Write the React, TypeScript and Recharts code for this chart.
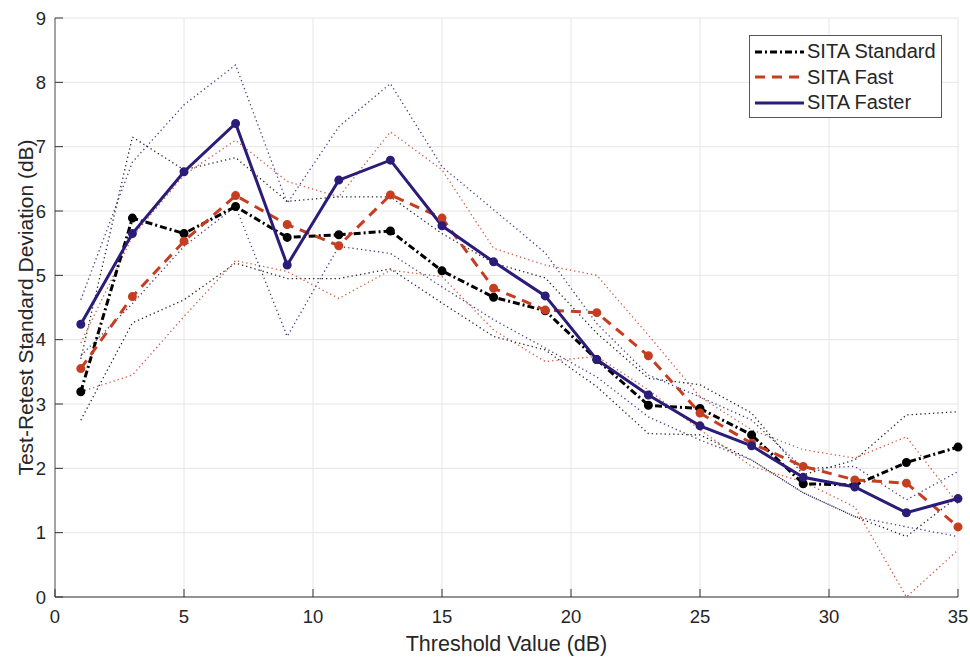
import React from "react";
import { LineChart, Line, XAxis, YAxis, CartesianGrid } from "recharts";

// threshold values (dB)
const thresholds = [1, 3, 5, 7, 9, 11, 13, 15, 17, 19, 21, 23, 25, 27, 29, 31, 33, 35];

// mean test-retest SD per strategy
const standard = [3.19, 5.89, 5.65, 6.07, 5.59, 5.63, 5.69, 5.07, 4.66, 4.45, 3.69, 2.98, 2.93, 2.52, 1.76, 1.74, 2.09, 2.33];
const fast = [3.55, 4.67, 5.53, 6.24, 5.79, 5.46, 6.25, 5.89, 4.8, 4.46, 4.42, 3.75, 2.86, 2.39, 2.03, 1.82, 1.77, 1.09];
const faster = [4.24, 5.65, 6.61, 7.36, 5.16, 6.48, 6.79, 5.77, 5.21, 4.68, 3.69, 3.14, 2.66, 2.35, 1.86, 1.71, 1.31, 1.53];

// confidence bounds (dotted)
const standardHi = [3.7, 7.15, 6.64, 6.83, 6.15, 6.22, 6.22, 5.65, 5.19, 4.96, 4.1, 3.4, 3.3, 2.86, 1.9, 2.13, 2.83, 2.88];
const standardLo = [2.75, 4.26, 4.62, 5.19, 4.95, 4.95, 5.1, 4.57, 4.05, 3.84, 3.27, 2.54, 2.52, 2.13, 1.62, 1.25, 0.94, 1.56];
const fastHi = [3.95, 5.6, 6.56, 7.1, 6.46, 6.22, 7.23, 6.64, 5.42, 5.16, 5.0, 4.07, 3.11, 2.6, 2.29, 2.16, 2.49, 1.45];
const fastLo = [3.19, 3.45, 4.36, 5.23, 5.06, 4.64, 5.08, 4.98, 4.15, 3.66, 3.74, 3.22, 2.6, 2.03, 1.79, 1.4, 0.0, 0.73];
const fasterHi = [4.62, 6.76, 7.65, 8.27, 6.12, 7.31, 7.98, 6.69, 6.02, 5.35, 4.25, 3.45, 3.11, 2.75, 2.0, 2.03, 1.51, 1.95];
const fasterLo = [3.75, 4.56, 5.45, 6.07, 4.05, 5.45, 5.34, 4.82, 4.31, 3.87, 3.42, 2.8, 2.44, 2.13, 1.62, 1.25, 1.09, 0.94];

const xTicks = [0, 5, 10, 15, 20, 25, 30, 35];
const yTicks = [0, 1, 2, 3, 4, 5, 6, 7, 8, 9];

const BLACK = "#000000";
const RED = "#c63d1f";
const BLUE = "#2a1c78";
const TEXT = "#262626";
const FONT = "'Liberation Sans', Arial, sans-serif";

const data = thresholds.map((t, i) => ({
  t,
  standard: standard[i],
  fast: fast[i],
  faster: faster[i],
  standardHi: standardHi[i],
  standardLo: standardLo[i],
  fastHi: fastHi[i],
  fastLo: fastLo[i],
  fasterHi: fasterHi[i],
  fasterLo: fasterLo[i],
}));

const legendItems = [
  { name: "SITA Standard", color: BLACK, dash: "7 3 2 3" },
  { name: "SITA Fast", color: RED, dash: "10 7" },
  { name: "SITA Faster", color: BLUE, dash: undefined },
];

const LegendBox = () => (
  <div
    style={{
      position: "absolute",
      left: 749,
      top: 35,
      border: "1px solid #555",
      background: "#fff",
      width: 193,
      height: 83,
      boxSizing: "border-box",
      paddingTop: 3,
    }}
  >
    {legendItems.map((it) => (
      <div key={it.name} style={{ display: "flex", alignItems: "center", height: 25.5 }}>
        <svg width={58} height={10} style={{ marginLeft: 3 }}>
          <line x1={2} y1={5} x2={51} y2={5} stroke={it.color} strokeWidth={3} strokeDasharray={it.dash} />
        </svg>
        <span style={{ fontFamily: FONT, fontSize: 20, color: TEXT, marginLeft: -4, whiteSpace: "nowrap" }}>{it.name}</span>
      </div>
    ))}
  </div>
);

const XTick = (props: any) => {
  const { x, y, payload } = props;
  return (
    <g>
      <line x1={x} y1={y} x2={x} y2={y - 8} stroke="#333" strokeWidth={1} />
      <text x={x} y={y + 26} textAnchor="middle" fontFamily={FONT} fontSize={18.5} fill={TEXT}>
        {payload.value}
      </text>
    </g>
  );
};

const YTick = (props: any) => {
  const { x, y, payload } = props;
  return (
    <g>
      <line x1={x} y1={y} x2={x + 8} y2={y} stroke="#333" strokeWidth={1} />
      <text x={x - 9} y={y + 6.5} textAnchor="end" fontFamily={FONT} fontSize={18.5} fill={TEXT}>
        {payload.value}
      </text>
    </g>
  );
};

const dotted = (key: string, color: string) => (
  <Line
    key={key}
    type="linear"
    dataKey={key}
    stroke={color}
    strokeWidth={1.3}
    strokeDasharray="1.3 3"
    strokeOpacity={0.85}
    dot={false}
    isAnimationActive={false}
    legendType="none"
  />
);

export default function App() {
  return (
    <div style={{ position: "absolute", left: 0, top: 0, width: 970, height: 657 }}>
      <LineChart width={970} height={657} data={data} margin={{ top: 18, right: 12, left: 0, bottom: 0 }}>
        <CartesianGrid stroke="#e6e6e6" strokeWidth={1} verticalValues={xTicks} horizontalValues={yTicks} />
        <XAxis
          dataKey="t"
          type="number"
          domain={[0, 35]}
          ticks={xTicks}
          interval={0}
          height={60}
          stroke="#333"
          tickLine={false}
          tickSize={0}
          tickMargin={0}
          tick={<XTick />}
          label={{ value: "Threshold Value (dB)", position: "insideBottom", offset: 6, fontSize: 21.5, fill: TEXT, fontFamily: FONT }}
        />
        <YAxis
          type="number"
          domain={[0, 9]}
          ticks={yTicks}
          interval={0}
          width={55}
          stroke="#555"
          tickLine={false}
          tickSize={0}
          tickMargin={0}
          tick={<YTick />}
          label={{
            value: "Test-Retest Standard Deviation (dB)",
            angle: -90,
            position: "insideLeft",
            offset: 26,
            style: { textAnchor: "middle" },
            fontSize: 21,
            fill: TEXT,
            fontFamily: FONT,
          }}
        />
        {dotted("standardHi", BLACK)}
        {dotted("standardLo", BLACK)}
        {dotted("fastHi", RED)}
        {dotted("fastLo", RED)}
        {dotted("fasterHi", BLUE)}
        {dotted("fasterLo", BLUE)}
        <Line
          type="linear"
          dataKey="standard"
          name="SITA Standard"
          stroke={BLACK}
          strokeWidth={3}
          strokeDasharray="7 3 2 3"
          dot={{ r: 3, fill: BLACK, stroke: BLACK, strokeDasharray: "" }}
          isAnimationActive={false}
        />
        <Line
          type="linear"
          dataKey="fast"
          name="SITA Fast"
          stroke={RED}
          strokeWidth={3}
          strokeDasharray="10 7"
          dot={{ r: 3, fill: RED, stroke: RED, strokeDasharray: "" }}
          isAnimationActive={false}
        />
        <Line
          type="linear"
          dataKey="faster"
          name="SITA Faster"
          stroke={BLUE}
          strokeWidth={3}
          dot={{ r: 3, fill: BLUE, stroke: BLUE }}
          isAnimationActive={false}
        />
      </LineChart>
      <LegendBox />
    </div>
  );
}
